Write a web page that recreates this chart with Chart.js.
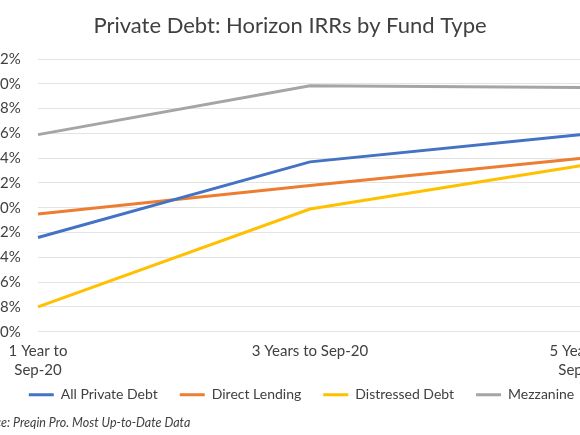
<!DOCTYPE html>
<html>
<head>
<meta charset="utf-8">
<script src="https://cdn.jsdelivr.net/npm/chart.js@4/dist/chart.umd.min.js"></script>
<style>
  html, body { margin: 0; padding: 0; overflow: hidden; background: #ffffff; width: 580px; height: 435px; }
  #wrap { position: absolute; left: -28px; top: 0; width: 636px; height: 435px; }
</style>
</head>
<body>
<div id="wrap"><canvas id="c"></canvas></div>
<script>
const categories = [["1 Year to", "Sep-20"], "3 Years to Sep-20", ["5 Years to", "Sep-20"]];
const allPrivateDebt = [-2.4, 3.7, 5.9];
const directLending = [-0.5, 1.8, 4.0];
const distressedDebt = [-8.0, -0.1, 3.4];
const mezzanine = [5.9, 9.85, 9.7];
const seriesNames = ["All Private Debt", "Direct Lending", "Distressed Debt", "Mezzanine"];
const yMin = -10, yMax = 12, yStep = 2;

const FONT = "Lato, 'Open Sans', sans-serif";

const shiftLegend = {
  id: 'shiftLegend',
  afterLayout(chart) {
    const lg = chart.legend;
    if (lg) {
      lg.left += 11.5; lg.right += 11.5;
      lg.top -= 14; lg.bottom -= 14;
    }
  }
};

const mk = (label, data, color) => ({
  label, data, borderColor: color, backgroundColor: color,
  borderWidth: 3, pointRadius: 0, pointHoverRadius: 0, tension: 0, fill: false
});

new Chart(document.getElementById('c'), {
  type: 'line',
  data: {
    labels: categories,
    datasets: [
      mk(seriesNames[0], allPrivateDebt, '#4472C4'),
      mk(seriesNames[1], directLending, '#ED7D31'),
      mk(seriesNames[2], distressedDebt, '#FFC000'),
      mk(seriesNames[3], mezzanine, '#A5A5A5')
    ]
  },
  options: {
    responsive: true,
    maintainAspectRatio: false,
    animation: false,
    devicePixelRatio: 1,
    layout: { padding: 0 },
    plugins: {
      title: {
        display: true,
        text: 'Private Debt: Horizon IRRs by Fund Type',
        color: '#404040',
        font: { family: FONT, size: 22, weight: 'normal', lineHeight: 1.2 },
        padding: { top: 12.8, bottom: 19.8 }
      },
      subtitle: {
        display: true,
        position: 'bottom',
        align: 'start',
        text: 'Source: Preqin Pro. Most Up-to-Date Data',
        color: '#404040',
        font: { family: FONT, size: 12.5, style: 'italic', weight: 'normal', lineHeight: 1.2 },
        padding: { top: -10.2, bottom: 4.5 }
      },
      legend: {
        position: 'bottom',
        align: 'center',
        labels: {
          usePointStyle: true,
          pointStyle: 'line',
          pointStyleWidth: 25,
          padding: 22,
          color: '#404040',
          font: { family: FONT, size: 14 }
        }
      },
      tooltip: { enabled: false }
    },
    scales: {
      x: {
        offset: false,
        grid: { display: false, drawTicks: false },
        border: { display: false },
        ticks: {
          maxRotation: 0, minRotation: 0, autoSkip: true,
          padding: 9.25,
          color: '#404040',
          font: { family: FONT, size: 15, lineHeight: 1.3 }
        },
        afterFit(scale) { scale.paddingLeft = 0; scale.paddingRight = 26; scale.height = 48; }
      },
      y: {
        min: yMin, max: yMax,
        grid: { color: '#e3e3e3', lineWidth: 1, drawTicks: false },
        border: { display: false },
        ticks: {
          stepSize: yStep,
          padding: 17.3,
          color: '#404040',
          font: { family: FONT, size: 15 },
          callback: v => v + '%'
        },
        afterFit(scale) { scale.width = 66; }
      }
    }
  },
  plugins: [shiftLegend]
});
</script>
</body>
</html>
